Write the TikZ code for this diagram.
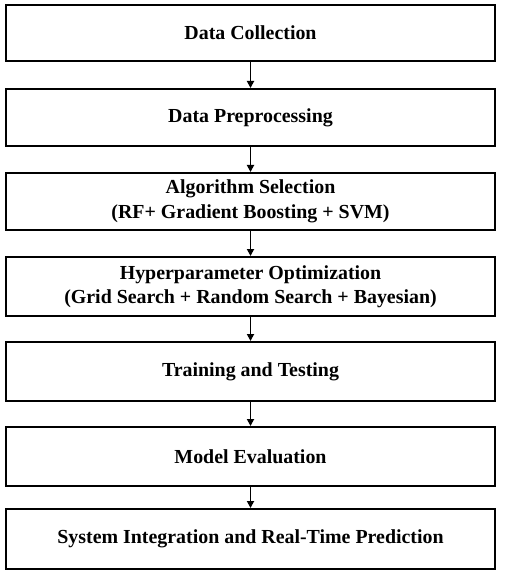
\documentclass[tikz,border=0pt]{standalone}
\usepackage{fontspec}
\setmainfont{Liberation Serif}
\usetikzlibrary{arrows.meta}
\begin{document}
\begin{tikzpicture}[x=1bp,y=-1bp,
  stepbox/.style={draw=black, line width=2bp, fill=white, minimum width=488bp,
    align=center, inner sep=0pt,
    font=\fontsize{19.9bp}{24.5bp}\selectfont\bfseries},
  flow/.style={draw=black, line width=1.8bp, -{Triangle[length=7bp,width=7bp]}}]
  \useasboundingbox (0,0) rectangle (515,572);
  \node[stepbox, minimum height=56bp] (s1) at (250.5,33) {Data Collection};
  \node[stepbox, minimum height=57bp] (s2) at (250.5,117.5) {Data Preprocessing};
  \node[stepbox, minimum height=57bp] (s3) at (250.5,201.5) {Algorithm Selection\\(RF+ Gradient Boosting + SVM)};
  \node[stepbox, minimum height=59bp] (s4) at (250.5,286.5) {Hyperparameter Optimization\\(Grid Search + Random Search + Bayesian)};
  \node[stepbox, minimum height=59bp] (s5) at (250.5,371.5) {Training and Testing};
  \node[stepbox, minimum height=59bp] (s6) at (250.5,456.5) {Model Evaluation};
  \node[stepbox, minimum height=60bp] (s7) at (250.5,539) {System Integration and Real-Time Prediction};
  \foreach \a/\b in {s1/s2,s2/s3,s3/s4,s4/s5,s5/s6,s6/s7}
    \draw[flow] (\a.south) -- (\b.north);
\end{tikzpicture}
\end{document}
